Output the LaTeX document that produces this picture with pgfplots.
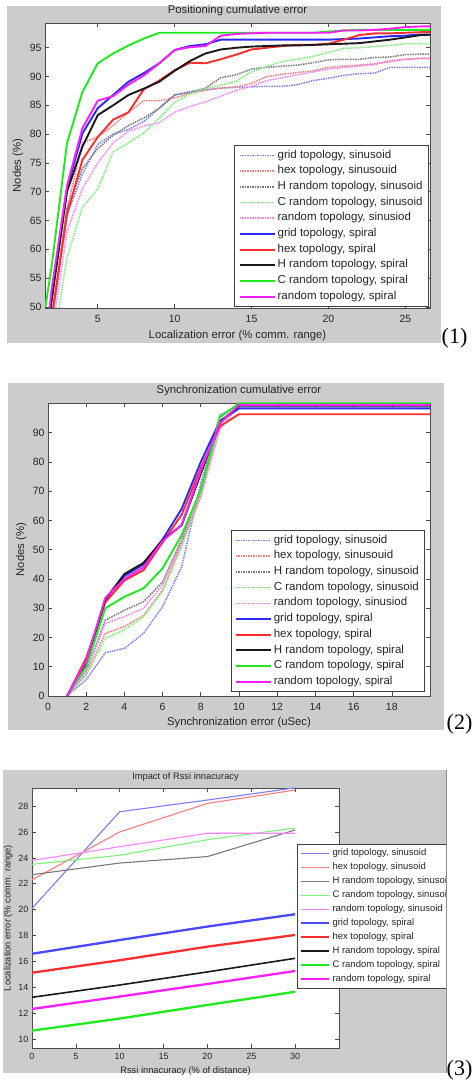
\documentclass[border=0pt]{standalone}
\usepackage{pgfplots}
\usepackage{pgfplotstable}
\pgfplotsset{compat=1.18}
\usepackage{fontspec}
\setmainfont{Liberation Sans}
\newfontfamily\serifnum{Liberation Serif}

\definecolor{figgray}{RGB}{204,204,204}
\definecolor{sinB}{RGB}{125,125,255}
\definecolor{sinR}{RGB}{255,125,125}
\definecolor{sinK}{RGB}{120,120,120}
\definecolor{sinG}{RGB}{120,245,120}
\definecolor{sinM}{RGB}{255,130,255}
\definecolor{spB}{RGB}{40,40,255}
\definecolor{spR}{RGB}{255,45,45}
\definecolor{spK}{RGB}{25,25,25}
\definecolor{spG}{RGB}{30,235,30}
\definecolor{spM}{RGB}{255,30,255}

\pgfplotstableread{
x    sB   sR   sK   sG   sM   pB   pR   pK   pG   pM
1.6  37   36   38   30   34   42   38   41   50   43
2    47   47   48   42   45   52   48   51   57   53
3    66   67   67   58.5 63   70.5 66   70   78.4 71
4    73   78.5 74   67.3 70.5 80.1 75.5 77.8 87.3 81
5    78.2 79.5 77.5 70.5 75   84.5 79.5 83.3 92.3 85.8
6    80   81.5 79.8 76.9 78.5 86.8 82.5 85   94   86.6
7    80.8 83.8 81.5 78.5 80.5 89.1 83.8 86.8 95.4 88.6
8    82.2 85.8 82.8 80.2 81.4 90.6 87.8 87.9 96.6 90.2
9    84.5 85.8 84.5 82.8 82   92.3 89.3 89.1 97.6 92.3
10   86.8 86.3 86.8 85.5 83.8 94.6 91.1 91   97.6 94.6
11   87.4 87   87.2 87   84.8 95.3 92.4 92.7 97.6 95.1
12   87.7 87.6 88   87.9 85.6 95.6 92.3 94   97.6 95.3
13   88   88   89.8 88.5 86.6 96.4 93   94.7 97.6 97.1
14   88.1 88.2 90.3 89.2 87.6 96.4 93.8 95   97.6 97.4
15   88.2 88.8 91.3 90.8 88.3 96.4 94.7 95.2 97.6 97.5
16   88.3 90   91.6 91.8 89.3 96.4 95   95.3 97.6 97.6
17   88.3 90.4 91.8 92.6 89.8 96.4 95.3 95.4 97.6 97.6
18   88.6 90.7 92   93   90.3 96.4 95.5 95.4 97.6 97.6
19   89.3 91   92.4 93.5 90.8 96.4 95.5 95.5 97.6 97.6
20   89.7 91.6 92.9 94.2 91.3 96.4 95.7 95.6 97.8 97.6
21   90.2 91.8 93   94.9 91.6 96.5 96.4 95.7 98   98
22   90.5 92   93   95   91.8 96.6 97.2 95.8 98.1 98
23   90.6 92.2 93.3 95.2 92.1 96.8 97.5 96.1 98.1 98.1
24   91.6 92.7 93.4 95.4 92.6 97   97.5 96.4 98.1 98.3
25   91.6 93   93.8 95.7 93   97.1 97.6 96.8 98.1 98.6
26   91.6 93.1 93.9 95.7 93.2 97.3 97.7 97.2 98.1 98.7
27   91.6 93.1 93.9 95.7 93.2 97.3 97.7 97.3 98.1 98.7
}\tabA

\pgfplotstableread{
x   sB   sR   sK   sG   sM   pB   pR   pK   pG   pM
1   0    0    0    0    0    0    0    0    0    0
2   5.5  7.5  8.5  7    8    11   13   11   10   12
3   14.8 21.4 25.9 19.7 24.8 33   32   33   30   33.5
4   16.3 23.7 29.3 22.6 27.1 41   39.5 41.7 33.9 40
5   21.4 27.5 32.2 27.1 30   45   43   45.5 36.8 44
6   30.5 36.3 39   35.7 38   53.5 52.5 53.3 43.6 53
7   44.2 52   53.4 51   53   64   62   58.4 55   58.5
8   72.7 69   71   68   68   80   78   76   70.4 77
9   96   93   93   93   91   94   92.2 93.5 95.3 93.2
10  99.6 99.6 99.3 99.8 99.4 98.3 96.3 99.2 100  99.5
20  99.6 99.6 99.3 99.8 99.4 98.3 96.3 99.2 100  99.5
}\tabB

\pgfplotstableread{
x   sB    sR    sK    sG    sM    pB    pR    pK    pG    pM
0   20.1  22.3  22.7  23.5  23.8  16.6  15.14 13.24 10.67 12.34
10  27.56 26.0  23.6  24.2  24.86 17.66 16.1  14.19 11.6  13.3
20  28.46 28.2  24.1  25.4  25.9  18.7  17.15 15.2  12.65 14.27
30  29.4  29.23 26.15 26.3  25.9  19.65 18.05 16.25 13.67 15.27
}\tabC

\pgfplotsset{
  matfig/.style={
    scale only axis, anchor=south west,
    axis background/.style={fill=white},
    axis line style={black!70, line width=0.8pt},
    tick align=inside, major tick length=4pt,
    tick style={black!70, line width=0.6pt},
    /pgf/number format/assume math mode=true,
    legend cell align=left,
    every axis label/.append style={text=black!85},
    title style={text=black!85},
    ticklabel style={text=black!85},
  },
  sinus/.style={line width=1.5pt, dash pattern=on 1.5pt off 1pt},
  sinus3/.style={line width=1.1pt},
  spir/.style={line width=1.9pt},
  bigleg/.style={
    legend style={draw=black!75, fill=white, line width=0.6pt,
      font=\fontsize{11.5}{13}\selectfont, text=black!85,
      inner xsep=4pt, inner ysep=2pt, row sep=0pt,
      nodes={inner xsep=2pt, inner ysep=2pt, text height=8.5pt, text depth=3.2pt}},
    legend image code/.code={\draw[##1] (0pt,0pt) -- (35pt,0pt);},
  },
  smallleg/.style={
    legend style={draw=black!75, fill=white, line width=0.6pt,
      font=\fontsize{9.5}{11}\selectfont, text=black!85,
      inner xsep=3pt, inner ysep=2pt, row sep=0pt,
      nodes={inner xsep=2pt, inner ysep=2pt, text height=7.3pt, text depth=2.7pt}},
    legend image code/.code={\draw[##1] (0pt,0pt) -- (28pt,0pt);},
  },
}

\begin{document}
\begin{tikzpicture}[x=1pt,y=1pt]
\path[use as bounding box] (0,0) rectangle (473,1082);
\clip (0,0) rectangle (473,1082);
\fill[white] (0,0) rectangle (473,1082);
% figure backgrounds
\fill[figgray] (7,739) rectangle (441,1076);
\fill[figgray] (8,352) rectangle (444,699);
\fill[figgray] (3,9) rectangle (446,312);

% ---------- Panel 1 ----------
\begin{axis}[matfig, bigleg,
  at={(45pt,774pt)}, width=385pt, height=285pt,
  xmin=1.57, xmax=26.6, ymin=49.8, ymax=99.3,
  xtick={5,10,...,25}, ytick={50,55,...,95},
  ticklabel style={font=\fontsize{10.5}{12}\selectfont},
  xticklabel style={anchor=center, yshift=-11pt},
  title={Positioning cumulative error},
  title style={at={(axis description cs:0.5,1.043)}, anchor=center, yshift=-6pt, font=\fontsize{11.3}{13}\selectfont},
  xlabel={Localization error (\% comm. range)},
  xlabel style={at={(axis description cs:0.5,-0.098)}, anchor=center, font=\fontsize{11.3}{13}\selectfont},
  ylabel={Nodes (\%)},
  ylabel style={at={(axis description cs:-0.07,0.5)}, anchor=center, font=\fontsize{11.3}{13}\selectfont},
  legend style={at={(axis description cs:0.997,0.004)}, anchor=south east},
]
\addplot[sinus, sinB] table[x=x,y=sB] {\tabA};
\addplot[sinus, sinR] table[x=x,y=sR] {\tabA};
\addplot[sinus, sinK] table[x=x,y=sK] {\tabA};
\addplot[sinus, sinG] table[x=x,y=sG] {\tabA};
\addplot[sinus, sinM] table[x=x,y=sM] {\tabA};
\addplot[spir, spB] table[x=x,y=pB] {\tabA};
\addplot[spir, spR] table[x=x,y=pR] {\tabA};
\addplot[spir, spK] table[x=x,y=pK] {\tabA};
\addplot[spir, spG] table[x=x,y=pG] {\tabA};
\addplot[spir, spM] table[x=x,y=pM] {\tabA};
\legend{{grid topology, sinusoid}, {hex topology, sinusouid}, {H random topology, sinusoid}, {C random topology, sinusoid}, {random topology, sinusiod}, {grid topology, spiral}, {hex topology, spiral}, {H random topology, spiral}, {C random topology, spiral}, {random topology, spiral}}
\end{axis}

% ---------- Panel 2 ----------
\begin{axis}[matfig, bigleg,
  at={(48pt,386pt)}, width=382pt, height=293pt,
  xmin=0, xmax=20, ymin=0, ymax=100.15,
  xtick={0,2,...,18}, ytick={0,10,...,90},
  ticklabel style={font=\fontsize{10.5}{12}\selectfont},
  xticklabel style={anchor=center, yshift=-11pt},
  title={Synchronization cumulative error},
  title style={at={(axis description cs:0.5,1.041)}, anchor=center, yshift=-6pt, font=\fontsize{11.3}{13}\selectfont},
  xlabel={Synchronization error (uSec)},
  xlabel style={at={(axis description cs:0.5,-0.092)}, anchor=center, font=\fontsize{11.3}{13}\selectfont},
  ylabel={Nodes (\%)},
  ylabel style={at={(axis description cs:-0.07,0.5)}, anchor=center, font=\fontsize{11.3}{13}\selectfont},
  legend style={at={(axis description cs:0.987,0.0137)}, anchor=south east},
]
\addplot[sinus, sinB] table[x=x,y=sB] {\tabB};
\addplot[sinus, sinR] table[x=x,y=sR] {\tabB};
\addplot[sinus, sinK] table[x=x,y=sK] {\tabB};
\addplot[sinus, sinG] table[x=x,y=sG] {\tabB};
\addplot[sinus, sinM] table[x=x,y=sM] {\tabB};
\addplot[spir, spB] table[x=x,y=pB] {\tabB};
\addplot[spir, spR] table[x=x,y=pR] {\tabB};
\addplot[spir, spK] table[x=x,y=pK] {\tabB};
\addplot[spir, spG] table[x=x,y=pG] {\tabB};
\addplot[spir, spM] table[x=x,y=pM] {\tabB};
\legend{{grid topology, sinusoid}, {hex topology, sinusouid}, {H random topology, sinusoid}, {C random topology, sinusoid}, {random topology, sinusiod}, {grid topology, spiral}, {hex topology, spiral}, {H random topology, spiral}, {C random topology, spiral}, {random topology, spiral}}
\end{axis}

% ---------- Panel 3 ----------
\begin{axis}[matfig, smallleg,
  at={(32pt,34pt)}, width=307pt, height=260pt,
  xmin=0, xmax=35, ymin=9.33, ymax=29.39,
  xtick={0,5,...,30}, ytick={10,12,...,28},
  ticklabel style={font=\fontsize{9}{10}\selectfont},
  xticklabel style={anchor=center, yshift=-8.7pt},
  title={Impact of Rssi innacuracy},
  title style={at={(axis description cs:0.5,1.042)}, anchor=center, yshift=-6pt, font=\fontsize{9.3}{11}\selectfont},
  xlabel={Rssi innacuracy (\% of distance)},
  xlabel style={at={(axis description cs:0.5,-0.088)}, anchor=center, font=\fontsize{9.3}{11}\selectfont},
  ylabel={Localization error (\% comm. range)},
  ylabel style={at={(axis description cs:-0.0772,0.5)}, anchor=center, font=\fontsize{9.3}{11}\selectfont},
  legend style={at={(axis description cs:0.863,0.785)}, anchor=north west},
]
\addplot[sinus3, sinB] table[x=x,y=sB] {\tabC};
\addplot[sinus3, sinR] table[x=x,y=sR] {\tabC};
\addplot[sinus3, sinK] table[x=x,y=sK] {\tabC};
\addplot[sinus3, sinG] table[x=x,y=sG] {\tabC};
\addplot[sinus3, sinM] table[x=x,y=sM] {\tabC};
\addplot[spir, line width=2.3pt, spB!85!white] table[x=x,y=pB] {\tabC};
\addplot[spir, line width=2.3pt, spR] table[x=x,y=pR] {\tabC};
\addplot[spir, line width=1.6pt, spK] table[x=x,y=pK] {\tabC};
\addplot[spir, line width=2.3pt, spG] table[x=x,y=pG] {\tabC};
\addplot[spir, line width=2.3pt, spM] table[x=x,y=pM] {\tabC};
\legend{{grid topology, sinusoid}, {hex topology, sinusoid}, {H random topology, sinusoid}, {C random topology, sinusoid}, {random topology, sinusoid}, {grid topology, spiral}, {hex topology, spiral}, {H random topology, spiral}, {C random topology, spiral}, {random topology, spiral}}
\end{axis}

\fill[white] (446.5,0) rectangle (473,320);
\draw[black!45, line width=0.8pt] (446.5,9) -- (446.5,312);
\node[anchor=west, inner sep=0pt, font=\serifnum\fontsize{22}{22}\selectfont] at (441.5,744) {(1)};
\node[anchor=west, inner sep=0pt, font=\serifnum\fontsize{22}{22}\selectfont] at (446.5,358) {(2)};
\node[anchor=west, inner sep=0pt, font=\serifnum\fontsize{22}{22}\selectfont] at (446.5,12) {(3)};
\end{tikzpicture}
\end{document}
